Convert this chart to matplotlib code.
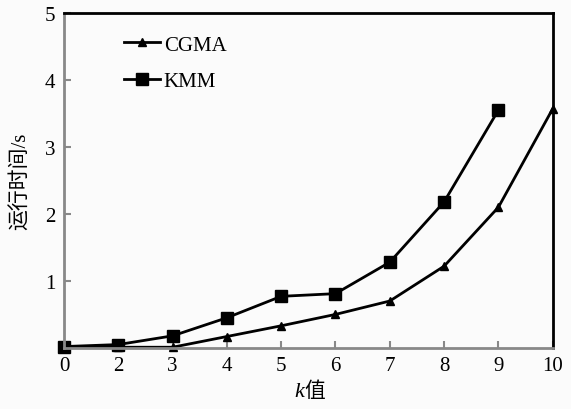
import numpy as np
import matplotlib.pyplot as plt

plt.rcParams['font.family'] = ['Liberation Serif', 'Noto Sans CJK SC']

k_labels = ['0', '2', '3', '4', '5', '6', '7', '8', '9', '10']
cgma = [0.02, 0.01, 0.01, 0.17, 0.33, 0.50, 0.70, 1.22, 2.10, 3.57]
kmm = [0.02, 0.05, 0.18, 0.45, 0.77, 0.81, 1.28, 2.18, 3.55]

fig = plt.figure(figsize=(5.71, 4.10), dpi=100, facecolor='#fbfbfb')
ax = fig.add_axes([0.112, 0.149, 0.856, 0.817])
ax.set_facecolor('#fbfbfb')

x = np.arange(len(k_labels))
ax.plot(x[:len(cgma)], cgma, color='black', lw=2, marker='^', ms=6, label='CGMA', clip_on=False)
ax.plot(x[:len(kmm)], kmm, color='black', lw=2, marker='s', ms=9, label='KMM', clip_on=False)

ax.set_xlim(0, 9)
ax.set_ylim(0, 5)
ax.set_xticks(x)
ax.set_xticklabels(k_labels)
ax.set_yticks([1, 2, 3, 4, 5])
ax.tick_params(direction='in', length=5, width=1.5, color='#888888', labelsize=15, pad=6)

for s in ['left', 'bottom']:
    ax.spines[s].set_color('#888888')
    ax.spines[s].set_linewidth(2)
for s in ['top', 'right']:
    ax.spines[s].set_color('black')
    ax.spines[s].set_linewidth(2)

ax.set_ylabel('运行时间/s', fontsize=15, labelpad=10)
fig.text(0.533, 0.02, 'k', fontsize=16, style='italic', ha='right', va='bottom')
fig.text(0.533, 0.02, '值', fontsize=15, ha='left', va='bottom')

ax.legend(loc='upper left', bbox_to_anchor=(0.085, 0.99), frameon=False, fontsize=15,
          handlelength=1.7, handletextpad=0.2, labelspacing=0.8)

fig.savefig('out.png', dpi=100, facecolor=fig.get_facecolor())
